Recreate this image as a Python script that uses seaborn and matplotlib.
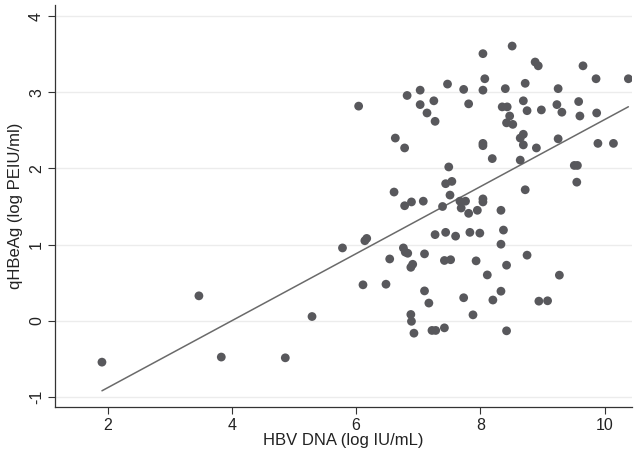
import numpy as np
import pandas as pd
import matplotlib
matplotlib.use("Agg")
import matplotlib.pyplot as plt
import seaborn as sns

# values
hbv_dna = [
    1.91, 3.47, 3.83, 4.86, 5.29,
    5.78, 6.14, 6.17, 6.11, 6.48, 6.54, 6.76, 6.79, 6.83, 6.91, 6.88, 6.88, 6.89, 6.93,
    7.10, 7.10, 7.17, 7.27, 7.22, 7.28, 7.44, 7.42, 7.52, 7.42, 7.60, 7.73, 7.83, 7.88,
    7.93, 7.99, 8.11, 8.20, 8.33, 8.33, 8.37, 8.42, 8.42, 8.75, 8.94, 9.08, 9.27,
    6.04, 6.63, 6.78, 6.82, 7.03, 7.03, 7.25, 7.14, 7.27, 7.47, 7.73, 7.81, 8.04, 8.07,
    8.04, 8.51, 8.40, 8.35, 8.43, 8.47, 8.42, 8.52, 8.72, 8.69, 8.75, 8.88, 8.93, 8.98,
    9.25, 9.23, 9.31, 9.65, 9.58, 9.60, 9.86, 9.87, 10.38,
    8.69, 8.64, 8.69, 8.04, 8.04, 8.90, 9.25, 8.19, 8.64, 9.89, 10.14, 7.49, 9.51, 9.56,
    9.55, 7.44, 7.54, 6.61, 7.51, 8.72, 6.78, 6.89, 7.08, 7.39, 7.67, 7.76, 7.69, 7.81,
    7.95, 8.04, 8.04, 8.33,
]
qhbeag = [
    -0.547, 0.325, -0.48, -0.49, 0.053,
    0.955, 1.05, 1.08, 0.47, 0.478, 0.81, 0.955, 0.90, 0.885, 0.74, 0.70, 0.08, -0.01, -0.166,
    0.877, 0.39, 0.23, 1.13, -0.13, -0.13, 1.16, 0.79, 0.80, -0.096, 1.11, 0.30, 1.16, 0.075,
    0.785, 1.15, 0.60, 0.27, 0.386, 1.004, 1.19, 0.728, -0.135, 0.86, 0.255, 0.26, 0.597,
    2.82, 2.40, 2.27, 2.96, 3.03, 2.84, 2.89, 2.73, 2.62, 3.11, 3.04, 2.85, 3.51, 3.18,
    3.03, 3.61, 3.05, 2.81, 2.81, 2.69, 2.60, 2.58, 3.12, 2.89, 2.76, 3.40, 3.35, 2.77,
    3.05, 2.84, 2.74, 3.35, 2.88, 2.69, 3.18, 2.73, 3.18,
    2.45, 2.40, 2.31, 2.33, 2.30, 2.27, 2.39, 2.13, 2.11, 2.33, 2.33, 2.02, 2.04, 2.04,
    1.82, 1.80, 1.83, 1.69, 1.65, 1.72, 1.51, 1.56, 1.57, 1.50, 1.57, 1.57, 1.48, 1.41,
    1.45, 1.60, 1.56, 1.45,
]

# linear fit as drawn in the reference
fit_slope = 0.441
fit_intercept = -1.766

x_ticks = [2, 4, 6, 8, 10]
y_ticks = [-1, 0, 1, 2, 3, 4]

df = pd.DataFrame({"hbv": hbv_dna, "qhbeag": qhbeag})

sns.set_theme(style="white")
plt.rcParams['font.family'] = ['Liberation Sans', 'DejaVu Sans']

fig = plt.figure(figsize=(6.34, 4.54), dpi=100)
ax = fig.add_axes([0.087, 0.103, 0.910, 0.886])

for yt in y_ticks:
    ax.axhline(yt, color="#ececec", lw=1.0, zorder=0)

sns.scatterplot(data=df, x="hbv", y="qhbeag", ax=ax, color="#58585c",
                s=40, edgecolor="none", linewidth=0, zorder=3)

x_line = np.array([df["hbv"].min(), df["hbv"].max()])
sns.lineplot(x=x_line, y=fit_slope * x_line + fit_intercept, ax=ax,
             color="#6a6a6a", lw=1.1, zorder=2)

ax.set_xlim(1.157, 10.44)
ax.set_ylim(-1.14, 4.15)
ax.set_xticks(x_ticks)
ax.set_yticks(y_ticks)
ax.set_yticklabels([str(t) for t in y_ticks], rotation=90, va="center")
ax.tick_params(axis="both", which="major", length=5, width=0.8, color="#333333",
               labelsize=11.5, labelcolor="#222222", direction="out", pad=3)
ax.tick_params(axis="x", bottom=True)
ax.tick_params(axis="y", left=True)

for side in ["top", "right"]:
    ax.spines[side].set_visible(False)
for side in ["left", "bottom"]:
    ax.spines[side].set_color("#333333")
    ax.spines[side].set_linewidth(0.9)

ax.set_xlabel("HBV DNA (log IU/mL)", fontsize=12, color="#222222", labelpad=0)
ax.set_ylabel("qHBeAg (log PEIU/ml)", fontsize=12, color="#222222", labelpad=4)

fig.savefig("out.png", dpi=100)
